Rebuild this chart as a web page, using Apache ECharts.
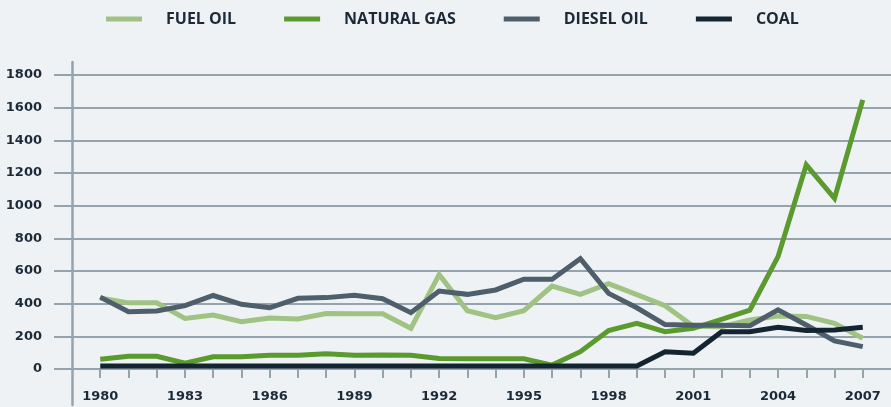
<!DOCTYPE html>
<html>
<head>
<meta charset="utf-8">
<style>
  html, body { margin: 0; padding: 0; background: #eef2f5; }
  #chart { width: 891px; height: 407px; }
</style>
<script src="https://cdn.jsdelivr.net/npm/echarts@6/dist/echarts.min.js"></script>
</head>
<body>
<div id="chart"></div>
<script>
const years = [1980,1981,1982,1983,1984,1985,1986,1987,1988,1989,1990,1991,1992,1993,1994,1995,1996,1997,1998,1999,2000,2001,2002,2003,2004,2005,2006,2007];
const fuelOil    = [435,405,405,310,330,290,312,306,340,338,338,249,578,357,314,357,508,457,522,455,388,262,259,300,324,322,280,188];
const naturalGas = [60,78,78,35,75,75,84,84,94,84,86,84,64,62,62,62,24,106,236,280,228,249,304,360,688,1250,1045,1648];
const dieselOil  = [440,351,355,388,450,396,375,433,437,452,430,345,477,457,484,550,550,675,463,375,272,268,268,265,362,269,172,137];
const coal       = [18,18,18,18,18,18,18,18,18,18,18,18,18,18,18,18,18,18,18,18,106,96,228,228,256,236,239,255];
const seriesNames = ['FUEL OIL','NATURAL GAS','DIESEL OIL','COAL'];
const seriesColors = ['#a0c283','#5b9a2f','#4e5e6b','#142532'];
const yTicks = [0,200,400,600,800,1000,1200,1400,1600,1800];

const gridColor = '#95a3ad';
const textColor = '#1c2a38';
const valuesList = [fuelOil, naturalGas, dieselOil, coal];

const chart = echarts.init(document.getElementById('chart'));
chart.setOption({
  backgroundColor: '#eef2f5',
  animation: false,
  legend: {
    top: 6,
    left: 101,
    icon: 'rect',
    itemWidth: 36,
    itemHeight: 5,
    itemGap: 48,
    textStyle: {
      fontFamily: 'Open Sans',
      fontWeight: 'bold',
      fontSize: 16,
      color: textColor,
      padding: [0, 0, 0, 19]
    },
    data: seriesNames
  },
  grid: [
    { left: 72, right: -5, top: 75, bottom: 38 },
    { left: 72, right: -5, top: 62, bottom: 2 }
  ],
  xAxis: [
    {
      type: 'value', gridIndex: 0, min: 1979, max: 2008, interval: 1,
      axisLine: { show: true, lineStyle: { color: gridColor, width: 2 } },
      axisTick: { show: true, length: 9, lineStyle: { color: gridColor, width: 2 } },
      splitLine: { show: false },
      axisLabel: {
        margin: 21,
        fontFamily: 'DejaVu Sans', fontWeight: 'bold', fontSize: 13, color: textColor,
        showMinLabel: false, showMaxLabel: false,
        formatter: function (v) {
          return (v >= years[0] && v <= years[years.length - 1] && (v - years[0]) % 3 === 0) ? String(v) : '';
        }
      }
    },
    { type: 'value', gridIndex: 1, min: 0, max: 1, show: false }
  ],
  yAxis: [
    {
      type: 'value', gridIndex: 0, min: yTicks[0], max: yTicks[yTicks.length - 1], interval: 200,
      axisLine: { show: false },
      axisTick: { show: true, length: 18, lineStyle: { color: gridColor, width: 2 } },
      splitLine: { show: true, lineStyle: { color: gridColor, width: 2 } },
      axisLabel: {
        margin: 30,
        fontFamily: 'DejaVu Sans', fontWeight: 'bold', fontSize: 13, color: textColor,
        formatter: function (v) { return String(v); }
      }
    },
    {
      type: 'value', gridIndex: 1, min: 0, max: 1,
      axisLine: { show: true, lineStyle: { color: gridColor, width: 2.5 } },
      axisTick: { show: false }, axisLabel: { show: false }, splitLine: { show: false }
    }
  ],
  series: seriesNames.map(function (name, i) {
    return {
      name: name,
      type: 'line',
      xAxisIndex: 0, yAxisIndex: 0,
      showSymbol: false,
      symbol: 'none',
      color: seriesColors[i],
      lineStyle: { width: 5, color: seriesColors[i], join: 'miter', cap: 'butt' },
      itemStyle: { color: seriesColors[i] },
      z: 3 + i,
      data: years.map(function (y, j) { return [y, valuesList[i][j]]; })
    };
  })
});
</script>
</body>
</html>
